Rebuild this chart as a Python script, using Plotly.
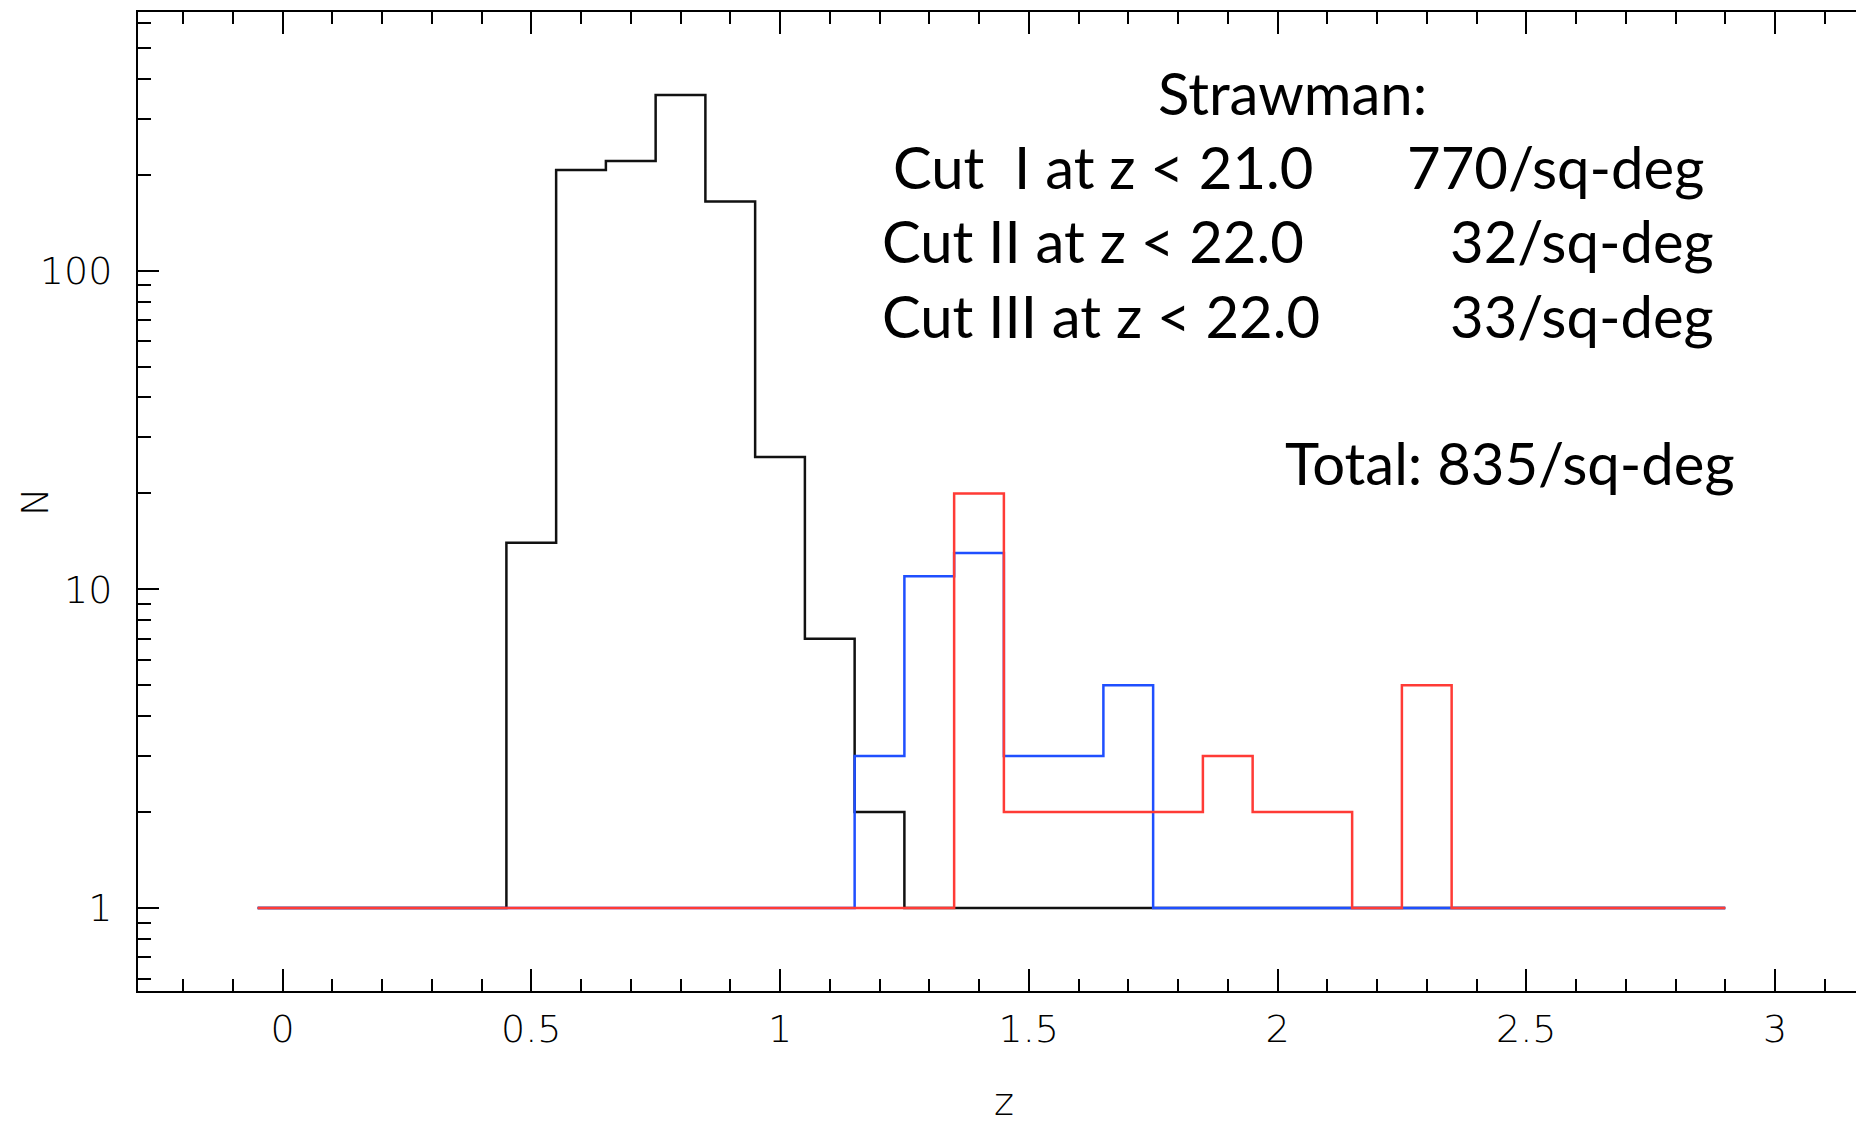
import plotly.graph_objects as go

# Histogram bin edges in redshift and the counts per bin for each colour cut
bin_edges = [-0.05, 0.45, 0.55, 0.65, 0.75, 0.85, 0.95, 1.05, 1.15, 1.25, 1.35,
             1.45, 1.55, 1.65, 1.75, 1.85, 1.95, 2.05, 2.15, 2.25, 2.35, 2.90]
counts_cut1 = [1, 14, 207, 221, 356, 165, 26, 7, 2, 1, 1, 1, 1, 1, 1, 1, 1, 1, 1, 1, 1]
counts_cut2 = [1, 1, 1, 1, 1, 1, 1, 1, 3, 11, 13, 3, 3, 5, 1, 1, 1, 1, 1, 1, 1]
counts_cut3 = [1, 1, 1, 1, 1, 1, 1, 1, 1, 1, 20, 2, 2, 2, 2, 3, 2, 2, 1, 5, 1]

x_tick_vals = [0, 0.5, 1, 1.5, 2, 2.5, 3]
x_tick_text = ["0", "0.5", "1", "1.5", "2", "2.5", "3"]
y_tick_vals = [1, 10, 100]
y_tick_text = ["1", "10", "100"]

cut_names = ["Cut\u00a0\u00a0I at z < 21.0", "Cut II at z < 22.0", "Cut III at z < 22.0"]
cut_density = [770, 32, 33]
total_density = 835

W, H = 1856, 1128
L, R, T, B = 138, 0, 12, 137
PW, PH = W - L - R, H - T - B

X_RANGE = [-0.2905, 3.1628]
Y_RANGE = [-0.2605, 2.8118]

AXIS_FONT = dict(family="DejaVu Sans, sans-serif", size=38, color="black", weight=200)
TEXT_FONT = dict(family="Lato, 'Noto Sans', sans-serif", size=58, color="black")


def px(xp, yp):
    """Pixel position on the page -> paper coordinates of the plot area."""
    return (xp - L) / PW, (H - B - yp) / PH


def step_trace(counts, color):
    return go.Scatter(
        x=bin_edges,
        y=counts + [counts[-1]],
        mode="lines",
        line=dict(shape="hv", color=color, width=2.5),
        hoverinfo="skip",
    )


fig = go.Figure()
fig.add_trace(step_trace(counts_cut1, "#111111"))
fig.add_trace(step_trace(counts_cut2, "#1f4fff"))
fig.add_trace(step_trace(counts_cut3, "#ff3b36"))

# Text block: per-cut densities
annotations = []
x, y = px(1292, 93)
annotations.append(dict(text="Strawman:", x=x, y=y, xanchor="center", yanchor="middle"))
left_centers = [(1103, 167), (1093, 240), (1101, 315)]
right_centers = [(1555, 167), (1582, 240), (1582, 315)]
for name, dens, lc, rc in zip(cut_names, cut_density, left_centers, right_centers):
    x, y = px(*lc)
    annotations.append(dict(text=name, x=x, y=y, xanchor="center", yanchor="middle"))
    x, y = px(*rc)
    annotations.append(dict(text=f"{dens}/sq-deg", x=x, y=y, xanchor="center", yanchor="middle"))
x, y = px(1510, 462)
annotations.append(dict(text=f"Total: {total_density}/sq-deg", x=x, y=y,
                        xanchor="center", yanchor="middle"))
for a in annotations:
    a.update(xref="paper", yref="paper", showarrow=False, font=TEXT_FONT)

# Axis titles
x, y = px(1004, 1102)
annotations.append(dict(text="z", x=x, y=y, xref="paper", yref="paper", showarrow=False,
                        xanchor="center", yanchor="middle", font=AXIS_FONT))
x, y = px(35, 502)
annotations.append(dict(text="N", x=x, y=y, xref="paper", yref="paper", showarrow=False,
                        xanchor="center", yanchor="middle", textangle=-90, font=AXIS_FONT))

axis_common = dict(
    showline=True, linecolor="black", linewidth=2,
    ticks="inside", tickwidth=2, tickcolor="black",
    showgrid=False, zeroline=False, tickfont=AXIS_FONT,
)

fig.update_layout(
    width=W, height=H,
    margin=dict(l=L, r=R, t=T, b=B, autoexpand=False),
    paper_bgcolor="white", plot_bgcolor="white",
    showlegend=False,
    annotations=annotations,
    xaxis=dict(
        **axis_common,
        range=X_RANGE, mirror="ticks", ticklen=22,
        tickmode="array", tickvals=x_tick_vals, ticktext=x_tick_text,
        minor=dict(tick0=0, dtick=0.1, ticklen=12, tickwidth=2,
                   tickcolor="black", ticks="inside"),
        ticklabelstandoff=3,
    ),
    yaxis=dict(
        **axis_common,
        type="log", range=Y_RANGE, mirror=False, ticklen=21,
        tickmode="array", tickvals=y_tick_vals, ticktext=y_tick_text,
        minor=dict(dtick="D1", ticklen=13, tickwidth=2,
                   tickcolor="black", ticks="inside"),
        ticklabelstandoff=16,
    ),
    yaxis2=dict(
        overlaying="y", side="right", anchor="x", type="log", range=Y_RANGE,
        showline=False, showgrid=False, zeroline=False, showticklabels=False,
        ticks="inside", ticklen=6, tickwidth=2, tickcolor="black",
        tickmode="array", tickvals=y_tick_vals,
    ),
)

fig.write_html("out.html")
